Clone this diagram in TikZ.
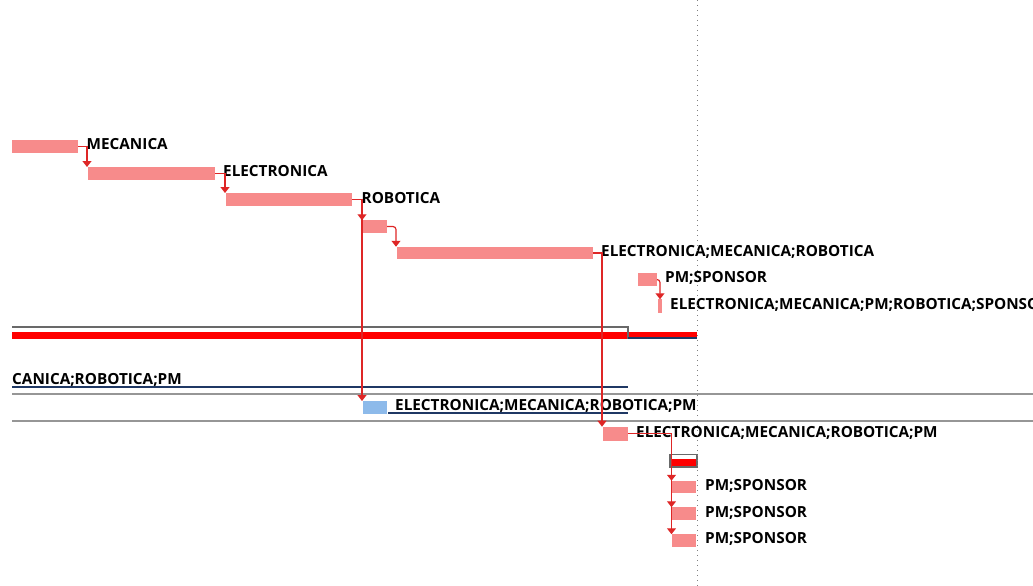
\documentclass[tikz,border=0pt]{standalone}
\usepackage{fontspec}
\setmainfont{Open Sans}
\usetikzlibrary{arrows.meta}
\definecolor{taskpink}{RGB}{247,139,139}
\definecolor{taskblue}{RGB}{141,186,234}
\definecolor{linkred}{RGB}{222,38,38}
\definecolor{sumred}{RGB}{255,0,0}
\definecolor{basegray}{RGB}{105,105,105}
\definecolor{navy}{RGB}{31,56,100}
\definecolor{rulegray}{RGB}{150,150,150}
\tikzset{
  bar/.style={fill=taskpink, draw=none, inner sep=0pt, outer sep=0pt},
  bluebar/.style={fill=taskblue, draw=none, inner sep=0pt, outer sep=0pt},
  lbl/.style={anchor=base west, inner sep=0pt, font=\bfseries\fontsize{15.3}{17}\selectfont, text=black},
  link/.style={draw=linkred, line width=1.2pt, -{Triangle[width=9pt,length=6pt]}},
  linkround/.style={link, rounded corners=3pt},
}
\begin{document}
\begin{tikzpicture}[x=1pt,y=-1pt]
\useasboundingbox (0,0) rectangle (1033,586);
\begin{scope}
\clip (0,0) rectangle (1033,586);

% row separators
\draw[rulegray, line width=1.3pt] (12,394) -- (1033,394);
\draw[rulegray, line width=1.3pt] (12,421) -- (1033,421);

% task bars
\node[bar, minimum width=66pt, minimum height=13pt] (b1) at (45,146.5) {};
\node[bar, minimum width=127pt, minimum height=13pt] (b2) at (151.5,173.5) {};
\node[bar, minimum width=126pt, minimum height=13pt] (b3) at (289,199.5) {};
\node[bar, minimum width=24pt, minimum height=12.5pt] (b4) at (375,226.5) {};
\node[bar, minimum width=196pt, minimum height=12.5pt] (b5) at (495,253) {};
\node[bar, minimum width=19pt, minimum height=13pt] (b6) at (647.5,279.5) {};
\node[bar, minimum width=4pt, minimum height=13.5pt] (b7) at (660,306) {};
\node[bluebar, minimum width=24pt, minimum height=13pt] (bb) at (375,407.5) {};
\node[bar, minimum width=25pt, minimum height=14pt] (bp) at (615.5,433.7) {};
\node[bar, minimum width=24pt, minimum height=12.5pt] (s1) at (683.5,487) {};
\node[bar, minimum width=24pt, minimum height=12.5pt] (s2) at (683.5,513.5) {};
\node[bar, minimum width=24pt, minimum height=12.5pt] (s3) at (683.5,540.5) {};

% project summary bar with its baseline
\node[fill=sumred, inner sep=0pt, minimum width=685pt, minimum height=7pt] (sum) at (354.5,335.7) {};
\draw[basegray, line width=2pt] (12,327) -- (627.5,327) -- (627.5,339);
\draw[navy, line width=2pt] (628,338.3) -- (697,338.3);

% phase summary bar
\node[fill=sumred, inner sep=0pt, minimum width=24pt, minimum height=7pt] (ph) at (683.5,462.5) {};
\node[draw=basegray, line width=1.5pt, inner sep=0pt, minimum width=27pt, minimum height=12.5pt] (phb) at (683.5,460.5) {};

% baseline lines under the blue task rows
\draw[navy, line width=2pt] (12,386.5) -- (628,386.5);
\draw[navy, line width=2pt] (388,413) -- (628,413);

% labels
\node[lbl] (l1) at (86.5,149.5) {MECANICA};
\node[lbl] (l2) at (223,176) {ELECTRONICA};
\node[lbl] (l3) at (361.5,203) {ROBOTICA};
\node[lbl] (l5) at (601,256) {ELECTRONICA;MECANICA;ROBOTICA};
\node[lbl] (l6) at (665,282.5) {PM;SPONSOR};
\node[lbl] (l7) at (670,309) {ELECTRONICA;MECANICA;PM;ROBOTICA;SPONSOR};
\node[lbl] (l8) at (12,384) {CANICA;ROBOTICA;PM};
\node[lbl] (lb) at (395,410) {ELECTRONICA;MECANICA;ROBOTICA;PM};
\node[lbl] (lp) at (636,437) {ELECTRONICA;MECANICA;ROBOTICA;PM};
\node[lbl] (ls1) at (705,490) {PM;SPONSOR};
\node[lbl] (ls2) at (705,517) {PM;SPONSOR};
\node[lbl] (ls3) at (705,543.5) {PM;SPONSOR};

% dependency links
\draw[link] (b1.east) -| ([xshift=-1pt]b2.north west);
\draw[link] (b2.east) -| ([xshift=-1pt]b3.north west);
\draw[link] (b3.east) -| ([xshift=-1pt]b4.north west);
\draw[link] (b3.east) -| ([xshift=-1pt]bb.north west);
\draw[linkround] (b4.east) -| ([xshift=-1pt]b5.north west);
\draw[link] (b5.east) -| ([xshift=-1pt]bp.north west);
\draw[linkround] (b6.east) -| (b7.north);
\draw[link] (bp.east) -| (s1.north west);
\draw[link] (bp.east) -| (s2.north west);
\draw[link] (bp.east) -| (s3.north west);

% status date
\coordinate (st) at (697,0);
\coordinate (sb) at (697,586);
\draw[gray, line width=1pt, dash pattern=on 1pt off 4pt] (st) -- (sb);
\end{scope}
\end{tikzpicture}
\end{document}
